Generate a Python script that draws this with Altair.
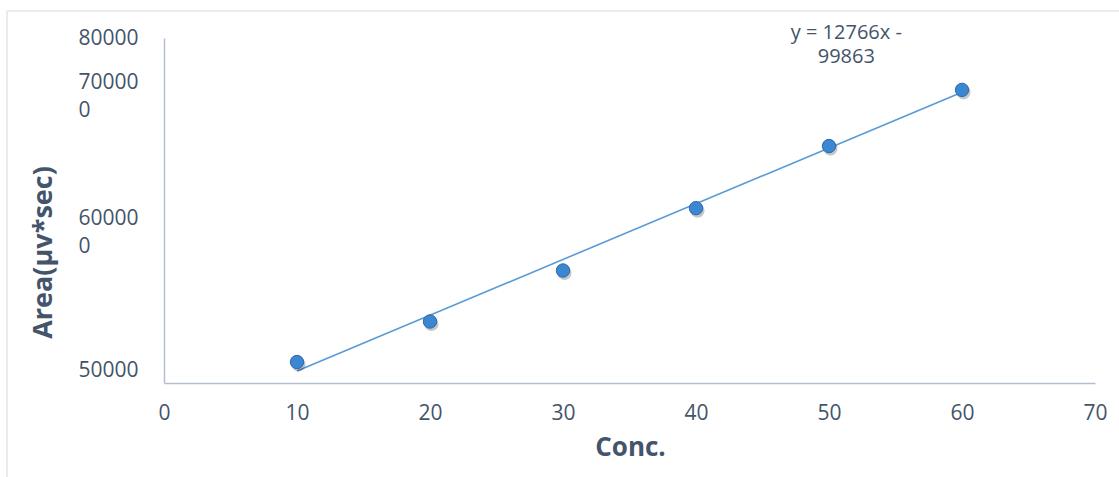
import altair as alt
import pandas as pd

# ---- data ----
conc = [10, 20, 30, 40, 50, 60]
area = [514000, 541000, 575000, 618000, 663000, 709000]
trend_conc = [10, 60]
trend_area = [508000, 705000]
x_ticks = [0, 10, 20, 30, 40, 50, 60, 70]
y_ticks = [500000, 600000, 700000, 800000]
equation = "y = 12766x -\n99863"
eq_conc = [51.3]
eq_area = [788000]

W, H = 931, 347
TEXT = "#44546a"
FONT = "Open Sans"

pts = pd.DataFrame({"conc": conc, "area": area})
trend = pd.DataFrame({"conc": trend_conc, "area": trend_area})
eq = pd.DataFrame({"conc": eq_conc, "area": eq_area, "label": [equation]})

xscale = alt.Scale(domain=[0, 70], nice=False, zero=False)
yscale = alt.Scale(domain=y_ticks, range=[347, 197, 59, 2], nice=False, zero=False)

xenc = alt.X("conc:Q", scale=xscale, axis=alt.Axis(
    values=x_ticks, title="Conc.", grid=False, ticks=False, tickSize=0,
    labelFont=FONT, labelFontSize=21, labelColor=TEXT, labelPadding=30,
    labelBaseline="middle", labelFlush=False, labelOverlap=False,
    domainColor="#b3bfd1", domainWidth=1.5,
    titleFont=FONT, titleFontSize=26, titleFontWeight="bold", titleColor=TEXT,
    titleX=466, titleY=64, titleBaseline="middle", titleAlign="center"))

yenc = alt.Y("area:Q", scale=yscale, axis=alt.Axis(
    values=y_ticks, title="Area(µv*sec)", grid=False, ticks=False, tickSize=0,
    format="d",
    labelExpr="datum.value == 800000 ? '80000' : (datum.value == 500000 ? ['50000', ''] : [slice(datum.label, 0, 5), '0'])",
    labelOffset=alt.ExprRef("datum.value == 800000 ? 0 : (datum.value == 600000 ? -15 : -13)"),
    labelFont=FONT, labelFontSize=21, labelColor=TEXT, labelPadding=86,
    labelAlign="left", labelBaseline="middle", labelLineHeight=28,
    labelFlush=False, labelOverlap=False,
    domainColor="#b3bfd1", domainWidth=1.5,
    titleFont=FONT, titleFontSize=27, titleFontWeight="bold", titleColor=TEXT,
    titleX=-121, titleY=216, titleAngle=270, titleBaseline="middle", titleAlign="center"))

border_top = alt.Chart(pd.DataFrame({"a": [0]})).mark_rule(color="#e1e5eb", strokeWidth=1.5).encode(
    x=alt.value(-157), x2=alt.value(W + 30), y=alt.value(-25))
border_left = alt.Chart(pd.DataFrame({"a": [0]})).mark_rule(color="#e1e5eb", strokeWidth=1.5).encode(
    x=alt.value(-157), y=alt.value(-25), y2=alt.value(H + 100))

line = alt.Chart(trend).mark_line(color="#5b9bd5", strokeWidth=1.6).encode(x=xenc, y=yenc)
shadow = alt.Chart(pts).mark_circle(size=200, color="#000000", opacity=0.22, xOffset=1.5, yOffset=2.5).encode(x=xenc, y=yenc)
points = alt.Chart(pts).mark_point(filled=True, size=180, fill="#3b87d2", stroke="#2d69aa",
                                   strokeWidth=1, opacity=1, shape="circle").encode(x=xenc, y=yenc)
text = alt.Chart(eq).mark_text(font=FONT, fontSize=20, color=TEXT, lineBreak="\n",
                               lineHeight=24, align="center", baseline="middle", dy=-12).encode(
    x=xenc, y=yenc, text="label:N")

chart = alt.layer(border_top, border_left, line, shadow, points, text).properties(
    width=W, height=H,
    autosize=alt.AutoSizeParams(type="none"),
    padding={"left": 164, "top": 36, "right": 24, "bottom": 94},
    background="white",
).configure_view(stroke=None)

chart.save("out.html", embed_options={"renderer": "svg", "actions": False})
